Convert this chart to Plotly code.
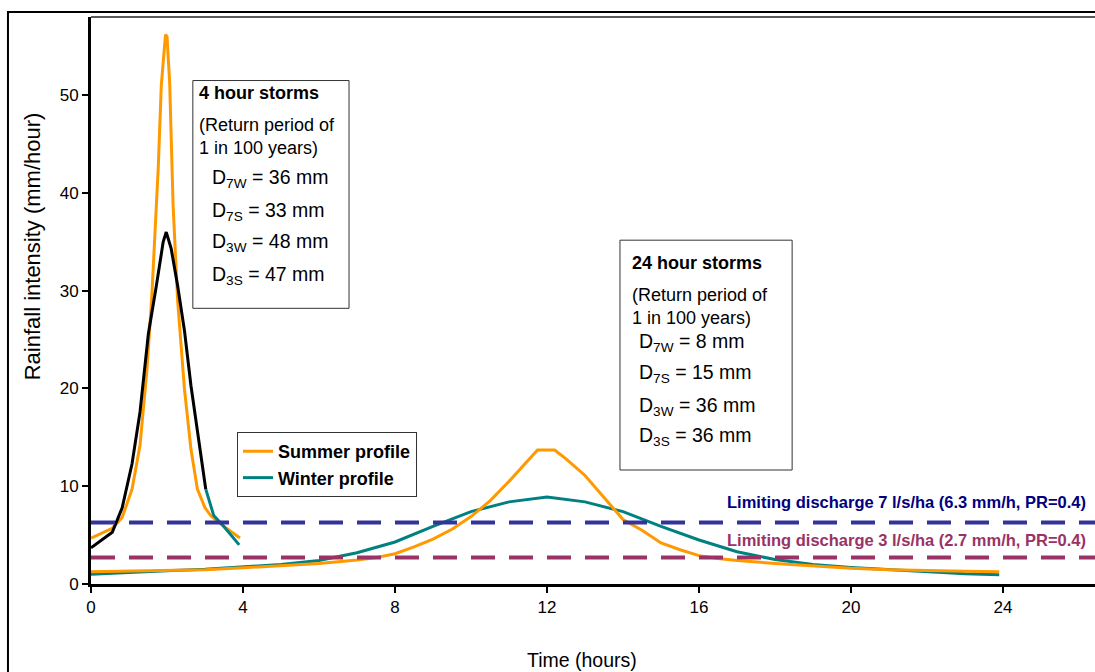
import plotly.graph_objects as go

# ---- 4 hour storms (return period 1 in 100 years) ----
t_summer_4h = [0, 0.3, 0.56, 0.82, 1.08, 1.29, 1.47, 1.6, 1.77, 1.85, 1.93, 1.96, 2.0,
               2.07, 2.16, 2.28, 2.46, 2.63, 2.8, 3.0, 3.15, 3.49, 3.92]
i_summer_4h = [4.7, 5.2, 5.7, 6.8, 9.7, 14.2, 21.8, 29.4, 42.6, 51.0, 55.0, 56.2, 56.0,
               51.3, 38.8, 29.0, 19.9, 13.8, 9.7, 7.8, 7.0, 5.9, 4.7]

t_winter_4h = [0, 0.3, 0.56, 0.82, 1.08, 1.29, 1.51, 1.72, 1.9, 1.98, 2.11, 2.28, 2.46,
               2.63, 2.8, 3.02]
i_winter_4h = [3.7, 4.6, 5.3, 7.8, 12.3, 17.6, 25.6, 30.5, 35.0, 36.0, 34.3, 30.5, 25.9,
               20.3, 15.7, 9.7]
t_winter_4h_tail = [3.02, 3.1, 3.23, 3.49, 3.9]
i_winter_4h_tail = [9.7, 8.6, 7.0, 5.9, 4.0]

# ---- 24 hour storms ----
t_summer_24h = [0, 1, 2, 3, 4, 5, 6, 7, 7.5, 8, 8.5, 9, 9.5, 10, 10.5, 11, 11.5, 11.75,
                12.2, 12.5, 13, 13.5, 14, 14.5, 15, 15.5, 16, 16.5, 17, 18, 19, 20, 21,
                22, 23, 23.9]
i_summer_24h = [1.25, 1.3, 1.35, 1.45, 1.65, 1.85, 2.1, 2.45, 2.7, 3.1, 3.8, 4.6, 5.6,
                6.9, 8.5, 10.5, 12.7, 13.7, 13.7, 12.8, 11.1, 8.8, 6.6, 5.5, 4.2, 3.5,
                2.9, 2.6, 2.4, 2.1, 1.85, 1.6, 1.45, 1.35, 1.3, 1.25]

t_winter_24h = [0, 1, 2, 3, 4, 5, 6, 7, 8, 9, 10, 11, 12, 13, 14, 15, 16, 17, 18, 19,
                20, 21, 22, 23, 23.9]
i_winter_24h = [1.0, 1.2, 1.35, 1.5, 1.75, 2.0, 2.4, 3.2, 4.3, 5.9, 7.4, 8.4, 8.9, 8.4,
                7.4, 5.9, 4.5, 3.3, 2.5, 2.0, 1.7, 1.5, 1.3, 1.05, 0.95]

# ---- limiting discharges (mm/h) ----
limit_7 = 6.3
limit_3 = 2.7
limit_7_label = "Limiting discharge 7 l/s/ha (6.3 mm/h, PR=0.4)"
limit_3_label = "Limiting discharge 3 l/s/ha (2.7 mm/h, PR=0.4)"

box_4h = ["4 hour storms", "(Return period of<br>1 in 100 years)",
          "D<sub>7W</sub> = 36 mm", "D<sub>7S</sub> = 33 mm",
          "D<sub>3W</sub> = 48 mm", "D<sub>3S</sub> = 47 mm"]
box_24h = ["24 hour storms", "(Return period of<br>1 in 100 years)",
           "D<sub>7W</sub> = 8 mm", "D<sub>7S</sub> = 15 mm",
           "D<sub>3W</sub> = 36 mm", "D<sub>3S</sub> = 36 mm"]

ORANGE = "#FF9900"
TEAL = "#008080"
FONT = "Liberation Sans, Arial, sans-serif"

fig = go.Figure()

fig.add_trace(go.Scatter(x=t_summer_4h, y=i_summer_4h, mode="lines",
                         line=dict(color=ORANGE, width=3), name="Summer profile",
                         showlegend=True, legendrank=1))
fig.add_trace(go.Scatter(x=t_winter_4h, y=i_winter_4h, mode="lines",
                         line=dict(color="black", width=3), showlegend=False))
fig.add_trace(go.Scatter(x=t_winter_4h_tail, y=i_winter_4h_tail, mode="lines",
                         line=dict(color=TEAL, width=3), showlegend=False))
fig.add_trace(go.Scatter(x=t_winter_24h, y=i_winter_24h, mode="lines",
                         line=dict(color=TEAL, width=3), name="Winter profile",
                         showlegend=True, legendrank=2))
fig.add_trace(go.Scatter(x=t_summer_24h, y=i_summer_24h, mode="lines",
                         line=dict(color=ORANGE, width=3), showlegend=False))

# limiting discharge lines
fig.add_shape(type="line", xref="paper", x0=0, x1=1, yref="y", y0=limit_7, y1=limit_7,
              line=dict(color="#333399", width=4, dash="24px,14px"), layer="above")
fig.add_shape(type="line", xref="paper", x0=0, x1=1, yref="y", y0=limit_3, y1=limit_3,
              line=dict(color="#993366", width=4, dash="24px,14px"), layer="above")

annotations = []
annotations.append(dict(x=26.24, y=8.4, xref="x", yref="y", text="<b>%s</b>" % limit_7_label,
                        showarrow=False, xanchor="right", yanchor="middle",
                        font=dict(family=FONT, size=16.5, color="#000080")))
annotations.append(dict(x=26.24, y=4.5, xref="x", yref="y", text="<b>%s</b>" % limit_3_label,
                        showarrow=False, xanchor="right", yanchor="middle",
                        font=dict(family=FONT, size=16.5, color="#993366")))

# text boxes (x in hours, y in mm/hour)
def text_box(lines, x_head, x_d, ys):
    for k, (txt, y) in enumerate(zip(lines, ys)):
        size = 18 if k < 2 else 19.5
        if k == 0:
            txt = "<b>%s</b>" % txt
        annotations.append(dict(x=x_head if k < 2 else x_d, y=y, xref="x", yref="y",
                                text=txt, showarrow=False, xanchor="left",
                                yanchor="middle", align="left", borderpad=0,
                                font=dict(family=FONT, size=size, color="black")))

text_box(box_4h, 2.81, 3.17, [50.2, 45.8, 41.5, 38.1, 34.9, 31.6])
text_box(box_24h, 14.2, 14.4, [32.8, 28.4, 24.7, 21.5, 18.2, 15.1])

fig.add_shape(type="rect", xref="x", yref="y", x0=2.68, x1=6.79, y0=28.2, y1=51.5,
              line=dict(color="#333333", width=1), fillcolor="rgba(0,0,0,0)")
fig.add_shape(type="rect", xref="x", yref="y", x0=13.92, x1=18.45, y0=11.66, y1=35.17,
              line=dict(color="#333333", width=1), fillcolor="rgba(0,0,0,0)")

# plot area top edge and outer chart frame
fig.add_shape(type="line", xref="paper", yref="paper", x0=0, x1=1.01, y0=1, y1=1,
              line=dict(color="#222222", width=1.5))
fig.add_shape(type="rect", xref="paper", yref="paper", x0=-0.0827, x1=1.05,
              y0=-0.3, y1=1.0088, line=dict(color="black", width=2))

# axis titles
annotations.append(dict(x=-0.0585, y=0.596, xref="paper", yref="paper",
                        xanchor="center", yanchor="middle",
                        text="Rainfall intensity (mm/hour)", textangle=-90,
                        showarrow=False, font=dict(family=FONT, size=22, color="black")))
annotations.append(dict(x=0.489, y=-0.134, xref="paper", yref="paper",
                        xanchor="center", yanchor="middle",
                        text="Time (hours)", showarrow=False,
                        font=dict(family=FONT, size=19.5, color="black")))

fig.update_layout(
    width=1095, height=672,
    margin=dict(l=91, r=0, t=17, b=88),
    paper_bgcolor="white", plot_bgcolor="white",
    font=dict(family=FONT, size=17, color="black"),
    annotations=annotations,
    legend=dict(x=0.1454, y=0.268, xanchor="left", yanchor="top",
                bgcolor="white", bordercolor="#333333", borderwidth=1,
                font=dict(family=FONT, size=18, color="black", weight="bold"),
                tracegroupgap=0),
    showlegend=True,
)

fig.update_xaxes(range=[0, 26.42], tickvals=[0, 4, 8, 12, 16, 20, 24],
                 showgrid=False, zeroline=False, showline=True, linecolor="black",
                 linewidth=3, ticks="outside", ticklen=6, tickwidth=2,
                 tickcolor="black", tickfont=dict(family=FONT, size=17))
fig.update_yaxes(range=[0, 58], tickmode="linear", tick0=0, dtick=10,
                 showgrid=False, zeroline=False, showline=True, linecolor="black",
                 linewidth=3, ticks="outside", ticklen=6, tickwidth=2,
                 tickcolor="black", tickfont=dict(family=FONT, size=17))

fig.write_html("out.html")
